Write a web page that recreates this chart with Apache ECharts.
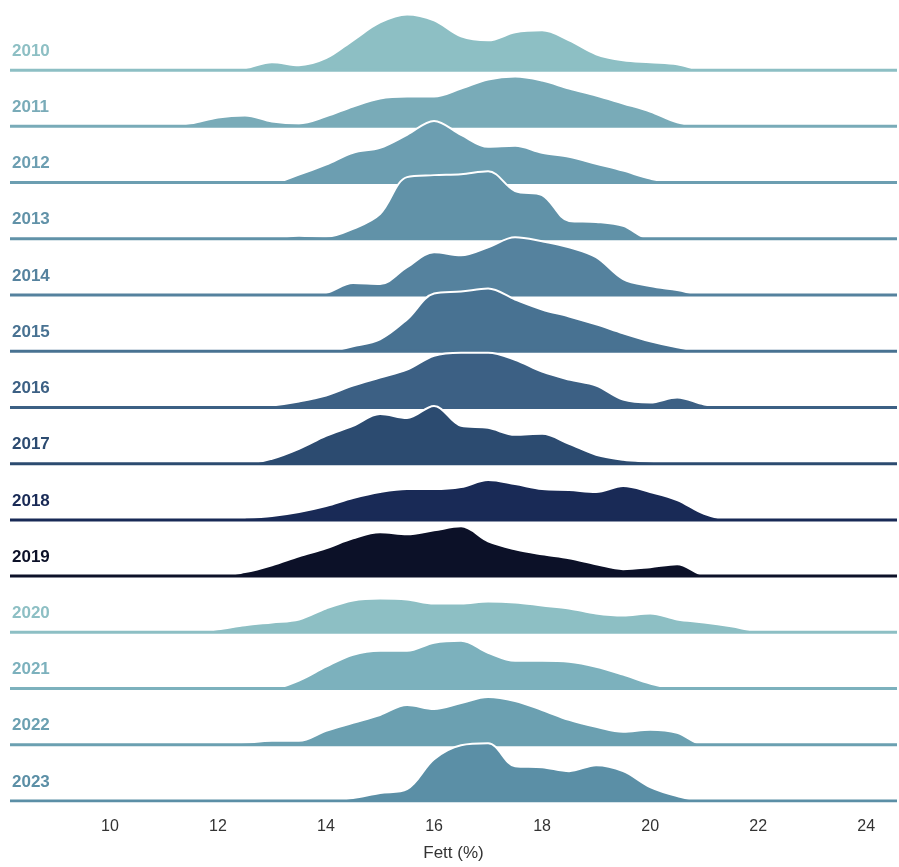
<!DOCTYPE html>
<html>
<head>
<meta charset="utf-8">
<script src="https://cdn.jsdelivr.net/npm/echarts@6/dist/echarts.min.js"></script>
<style>html,body{margin:0;padding:0;background:#fff}#main{width:899px;height:867px}</style>
</head>
<body>
<div id="main"></div>
<script>
// fat content grid (%), shared by all years
var xs = [11,11.5,12,12.5,13,13.5,14,14.5,15,15.5,16,16.5,17,17.5,18,18.5,19,19.5,20,20.5,21,21.5,22,22.5];
var years = ['2010','2011','2012','2013','2014','2015','2016','2017','2018','2019','2020','2021','2022','2023'];
var d2010 = [0,0,0,2,8,5,12,30,48,56,50,34,30,38,40,30,16,10,8,6,0,0,0,0];
var d2011 = [0,3,9,11,5,3,10,20,28,30,30,38,47,50,46,38,31,23,15,4,0,0,0,0];
var d2012 = [0,0,0,0,0,8,18,30,35,48,62,48,36,37,30,26,19,12,4,0,0,0,0,0];
var d2013 = [0,0,0,0,0,3,2,10,25,62,64,65,68,48,44,18,17,13,0,0,0,0,0,0];
var d2014 = [0,0,0,0,1,0,2,12,11,28,43,40,48,58,54,48,38,16,9,5,0,0,0,0];
var d2015 = [0,0,0,0,0,0,0,5,12,32,58,60,63,52,42,35,27,18,10,4,0,0,0,0];
var d2016 = [0,0,0,0,2,6,12,22,30,38,52,55,55,48,36,28,22,8,5,10,3,0,0,0];
var d2017 = [0,0,0,0,5,15,28,38,50,46,58,38,36,29,30,20,9,4,2,0,0,0,0,0];
var d2018 = [0,0,1,2,4,8,14,22,28,31,31,33,40,36,31,30,28,34,28,20,6,0,0,0];
var d2019 = [0,0,0,4,11,20,28,38,44,42,46,50,35,27,22,18,12,7,9,12,1,0,0,0];
var d2020 = [0,0,3,7,10,13,24,32,34,33,29,29,31,30,27,24,19,17,19,13,10,6,1,0];
var d2021 = [0,0,0,0,0,8,22,34,38,38,46,48,36,28,28,27,22,14,5,0,0,0,0,0];
var d2022 = [0,0,0,2,4,4,14,22,30,40,36,42,48,44,35,25,18,13,15,12,0,0,0,0];
var d2023 = [0,0,0,0,0,0,0,3,8,12,42,56,58,35,34,30,36,30,14,5,0,0,0,0];
var dens = [d2010,d2011,d2012,d2013,d2014,d2015,d2016,d2017,d2018,d2019,d2020,d2021,d2022,d2023];
var colors = ['#8dbfc4','#79abb8','#6c9eb1','#6192a8','#55829e','#487292','#3c6084','#2c4b70','#192a56','#0c1128','#8dbfc4','#7cb1bd','#6ba0b1','#5b8fa6'];
var tickLabels = [10,12,14,16,18,20,22,24];

var xMin = 8.15, xMax = 24.57;
var series = [];
years.forEach(function(y, i){
	var base = 734.5 - 56.5 * i;
	series.push({
		type: 'line', smooth: 0.35, symbol: 'none', z: 10 + 2 * i,
		data: xs.map(function(x, k){ return [x, base + dens[i][k]]; }),
		lineStyle: {color: '#fff', width: 2},
		areaStyle: {color: colors[i], opacity: 1, origin: base}
	});
	series.push({
		type: 'line', symbol: 'circle', symbolSize: 0, showSymbol: true, z: 11 + 2 * i,
		data: [{value: [xMin, base], label: {show: true}}, [xMax, base]],
		lineStyle: {color: colors[i], width: 3},
		itemStyle: {color: colors[i]},
		label: {show: false, position: 'right', distance: 2, offset: [0, -19], formatter: y,
			color: colors[i], fontWeight: 'bold', fontSize: 17, fontFamily: 'Liberation Sans'}
	});
});

var myChart = echarts.init(document.getElementById('main'));
myChart.setOption({
	animation: false,
	grid: {left: 10, right: 2, top: 0, bottom: 62},
	xAxis: {
		type: 'value', min: xMin, max: xMax,
		name: 'Fett (%)', nameLocation: 'middle', nameGap: 44,
		nameTextStyle: {fontSize: 17, color: '#333', fontFamily: 'Liberation Sans'},
		axisLine: {show: false}, axisTick: {show: false}, splitLine: {show: false},
		axisLabel: {customValues: tickLabels, fontSize: 16, color: '#333', margin: 18, fontFamily: 'Liberation Sans'}
	},
	yAxis: {type: 'value', min: 0, max: 805, show: false},
	series: series
});
</script>
</body>
</html>
